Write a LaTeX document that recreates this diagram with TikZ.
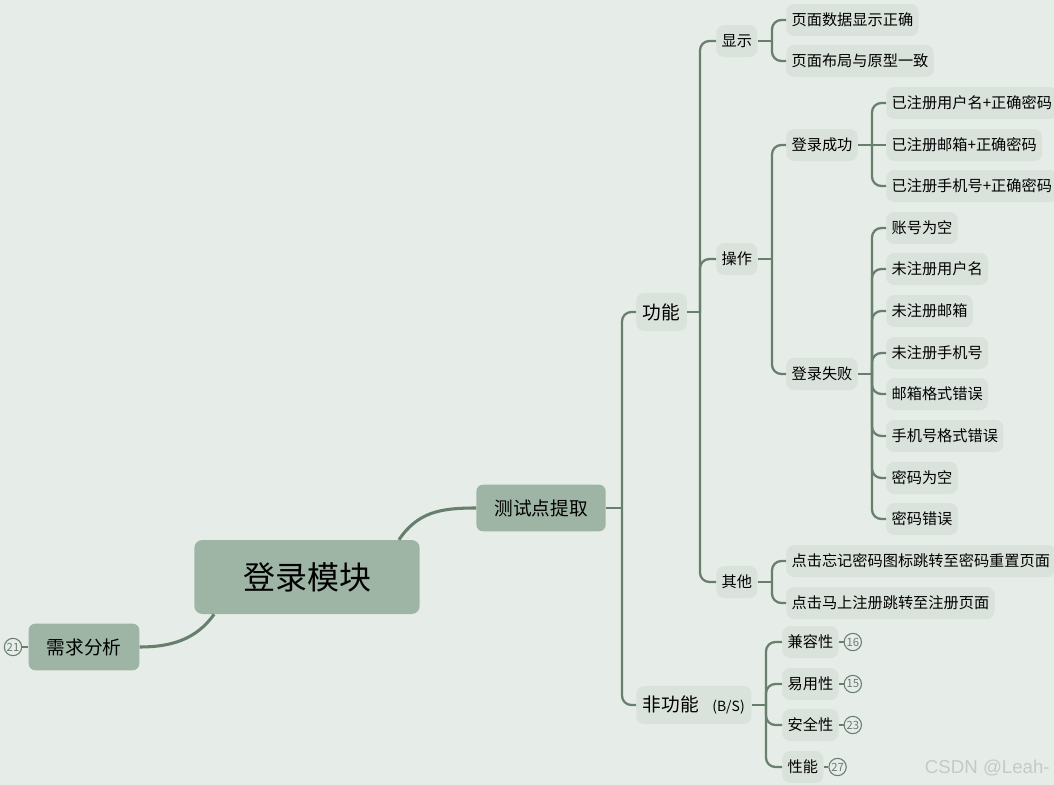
\documentclass[tikz,border=0pt]{standalone}
\usepackage{fontspec}
\setmainfont{Noto Sans CJK SC}
\newfontfamily\wmfont{Liberation Sans}
\usetikzlibrary{calc}
\definecolor{bg}{HTML}{E6ECE8}
\definecolor{dark}{HTML}{9EB5A5}
\definecolor{light}{HTML}{DAE2DC}
\definecolor{ln}{HTML}{687F6D}
\definecolor{badgetxt}{HTML}{707A73}
\definecolor{wm}{HTML}{C5CAC7}
\tikzset{
  rootbox/.style={fill=dark, rounded corners=6pt, font=\fontsize{24}{28}\selectfont, minimum width=169pt, minimum height=55.5pt, inner sep=0pt},
  lvtwo/.style={fill=dark, rounded corners=5pt, font=\fontsize{14}{17}\selectfont, inner xsep=13.5pt, inner ysep=0pt, minimum height=35pt},
  lvthree/.style={fill=light, rounded corners=6pt, font=\fontsize{14}{17}\selectfont, inner xsep=5pt, inner ysep=0pt, minimum height=28.5pt},
  leaf/.style={fill=light, rounded corners=6pt, font=\fontsize{11.4}{13}\selectfont, inner xsep=4pt, inner ysep=0pt, minimum height=24pt, anchor=west},
  badge/.style={circle, draw=ln, line width=0.8pt, text=badgetxt, font=\fontsize{8.5}{9}\selectfont, inner sep=0pt, minimum size=13pt},
  conn/.style={draw=ln, line width=1.7pt, rounded corners=7pt},
  mainconn/.style={draw=ln, line width=2.3pt},
}
\begin{document}
\begin{tikzpicture}[x=0.75pt, y=-0.75pt]
\fill[bg] (0,0) rectangle (1054,785);
\useasboundingbox (0,0) rectangle (1054,785);

% main nodes
\node[rootbox] (root) at (307,577) {登录模块};
\node[lvtwo] (tsd) at (541,508) {测试点提取};
\node[lvtwo] (xq) at (84,647) {需求分析};
\node[badge] (b21) at (13,647) {21};

\draw[mainconn] ($(root.north east)+(-21,0)$) .. controls (418,512) and (440,508) .. (tsd.west);
\draw[mainconn] ($(root.south west)+(20,0)$) .. controls (196,640) and (170,647) .. (xq.east);
\draw[conn] (xq.west) -- (b21.east);

% level 3
\node[lvthree, anchor=west] (gn) at (636,312) {功能};
\node[lvthree, anchor=west] (fgn) at (636,705) {非功能\hspace{10pt}{\fontsize{10.5}{12}\selectfont (B/S)}};

\coordinate (jt) at (622,508);
\draw[conn] (tsd.east) -- (jt);
\draw[conn] (jt) |- (gn.west);
\draw[conn] (jt) |- (fgn.west);

% level 4 under 功能
\node[leaf] (xs) at (716,41) {显示};
\node[leaf] (cz) at (716,259) {操作};
\node[leaf] (qt) at (716,582) {其他};
\coordinate (jg) at (700,312);
\draw[conn] (gn.east) -- (jg);
\draw[conn] (jg) |- (xs.west);
\draw[conn] (jg) |- (cz.west);
\draw[conn] (jg) |- (qt.west);

% 显示
\node[leaf] (xs1) at (786,20) {页面数据显示正确};
\node[leaf] (xs2) at (786,61) {页面布局与原型一致};
\coordinate (jx) at (772,41);
\draw[conn] (xs.east) -- (jx);
\draw[conn] (jx) |- (xs1.west);
\draw[conn] (jx) |- (xs2.west);

% 操作
\node[leaf] (cg) at (786,145) {登录成功};
\node[leaf] (sb) at (786,374) {登录失败};
\coordinate (jc) at (772,259);
\draw[conn] (cz.east) -- (jc);
\draw[conn] (jc) |- (cg.west);
\draw[conn] (jc) |- (sb.west);

% 登录成功
\node[leaf] (cg1) at (886,103) {已注册用户名+正确密码};
\node[leaf] (cg2) at (886,145) {已注册邮箱+正确密码};
\node[leaf] (cg3) at (886,186) {已注册手机号+正确密码};
\coordinate (jcg) at (872,145);
\draw[conn] (cg.east) -- (jcg);
\draw[conn] (jcg) |- (cg1.west);
\draw[conn] (jcg) -- (cg2.west);
\draw[conn] (jcg) |- (cg3.west);

% 登录失败
\node[leaf] (sb1) at (886,228) {账号为空};
\node[leaf] (sb2) at (886,269) {未注册用户名};
\node[leaf] (sb3) at (886,311) {未注册邮箱};
\node[leaf] (sb4) at (886,353) {未注册手机号};
\node[leaf] (sb5) at (886,394) {邮箱格式错误};
\node[leaf] (sb6) at (886,436) {手机号格式错误};
\node[leaf] (sb7) at (886,478) {密码为空};
\node[leaf] (sb8) at (886,519) {密码错误};
\coordinate (jsb) at (872,374);
\draw[conn] (sb.east) -- (jsb);
\foreach \n in {sb1,sb2,sb3,sb4,sb5,sb6,sb7,sb8} {
  \draw[conn] (jsb) |- (\n.west);
}

% 其他
\node[leaf] (qt1) at (786,561) {点击忘记密码图标跳转至密码重置页面};
\node[leaf] (qt2) at (786,603) {点击马上注册跳转至注册页面};
\coordinate (jq) at (772,582);
\draw[conn] (qt.east) -- (jq);
\draw[conn] (jq) |- (qt1.west);
\draw[conn] (jq) |- (qt2.west);

% 非功能
\node[leaf] (nf1) at (782,642) {兼容性};
\node[leaf] (nf2) at (782,684) {易用性};
\node[leaf] (nf3) at (782,725) {安全性};
\node[leaf] (nf4) at (782,767) {性能};
\coordinate (jn) at (766,705);
\draw[conn] (fgn.east) -- (jn);
\foreach \n in {nf1,nf2,nf3,nf4} {
  \draw[conn] (jn) |- (\n.west);
}
\node[badge] (b16) at ($(nf1.east)+(14,0)$) {16};
\node[badge] (b15) at ($(nf2.east)+(14,0)$) {15};
\node[badge] (b23) at ($(nf3.east)+(14,0)$) {23};
\node[badge] (b27) at ($(nf4.east)+(14,0)$) {27};
\draw[conn] (nf1.east) -- (b16.west);
\draw[conn] (nf2.east) -- (b15.west);
\draw[conn] (nf3.east) -- (b23.west);
\draw[conn] (nf4.east) -- (b27.west);

% watermark
\node[anchor=east, text=wm, font=\wmfont\fontsize{14}{16}\selectfont, inner sep=0pt] (wmk) at (1050,768) {CSDN @Leah-};
\end{tikzpicture}
\end{document}
